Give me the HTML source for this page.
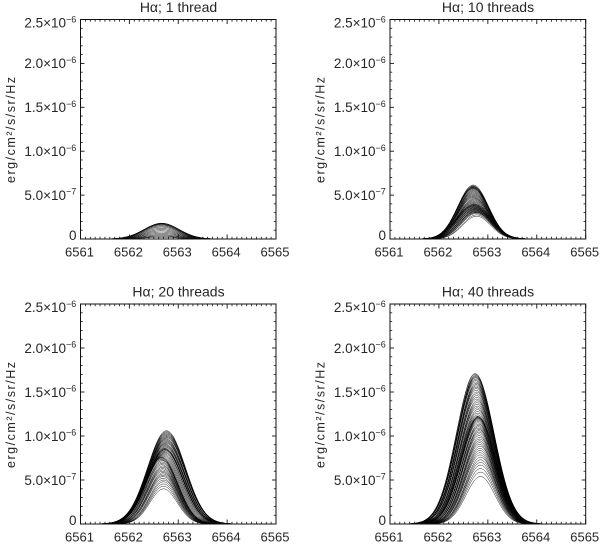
<!DOCTYPE html>
<html lang="en">
<head>
<meta charset="utf-8">
<title>H-alpha line profiles</title>
<style>
html,body{margin:0;padding:0;background:#fff;}
body{width:600px;height:544px;overflow:hidden;}
svg{display:block;font-family:"Liberation Sans",sans-serif;fill:#262626;filter:blur(0.3px);}
</style>
</head>
<body>
<svg id="figure" width="600" height="544" viewBox="0 0 600 544" xmlns="http://www.w3.org/2000/svg">
  <text x="178.5" y="12" font-size="14" text-anchor="middle">Hα; 1 thread</text>
  <text x="488" y="12" font-size="14" text-anchor="middle">Hα; 10 threads</text>
  <text x="178.5" y="296.5" font-size="14" text-anchor="middle">Hα; 20 threads</text>
  <text x="488" y="296.5" font-size="14" text-anchor="middle">Hα; 40 threads</text>
  <text transform="translate(15,130) rotate(-90)" font-size="12.5" text-anchor="middle" textLength="106" lengthAdjust="spacing">erg/cm²/s/sr/Hz</text>
  <text transform="translate(324.5,130) rotate(-90)" font-size="12.5" text-anchor="middle" textLength="106" lengthAdjust="spacing">erg/cm²/s/sr/Hz</text>
  <text transform="translate(15,415) rotate(-90)" font-size="12.5" text-anchor="middle" textLength="106" lengthAdjust="spacing">erg/cm²/s/sr/Hz</text>
  <text transform="translate(324.5,415) rotate(-90)" font-size="12.5" text-anchor="middle" textLength="106" lengthAdjust="spacing">erg/cm²/s/sr/Hz</text>
</svg>
<script>
// Axis ticks
const xTickValues = [6561, 6562, 6563, 6564, 6565];
const xTickLabels = ["6561", "6562", "6563", "6564", "6565"];
const yTickValues = [0, 5e-7, 1e-6, 1.5e-6, 2e-6, 2.5e-6];
const yTickMantissas = ["0", "5.0×10", "1.0×10", "1.5×10", "2.0×10", "2.5×10"];
const yTickExponents = ["", "−7", "−6", "−6", "−6", "−6"];

// Normalised line shape read from the outer profile
const profileOffsets = [-1.4,-1.3,-1.2,-1.1,-1.0,-0.9,-0.8,-0.7,-0.6,-0.5,-0.4,-0.3,-0.2,-0.1,0,0.1,0.2,0.3,0.4,0.5,0.6,0.7,0.8,0.9,1.0,1.1,1.2,1.3,1.4];
const profileShape = [0,0,0.001,0.004,0.010,0.024,0.053,0.105,0.191,0.317,0.480,0.661,0.832,0.955,1,0.955,0.832,0.661,0.480,0.317,0.191,0.105,0.053,0.024,0.010,0.004,0.001,0,0];

// Panel 1: peak intensity (units of 1e-7), line centre, width factor
const p1Peaks = [0.2,0.3,0.4,0.52,0.66,0.8,0.94,1.08,1.22,1.36,1.48,1.58,1.65,1.7,1.74,1.77,1.79,1.8];
const p1Centres = [6562.65,6562.65,6562.65,6562.65,6562.65,6562.65,6562.65,6562.65,6562.65,6562.65,6562.65,6562.65,6562.65,6562.65,6562.66,6562.66,6562.66,6562.66];
const p1Widths = [1.0,1.0,1.01,1.01,1.02,1.02,1.03,1.03,1.04,1.05,1.05,1.06,1.06,1.07,1.07,1.08,1.08,1.09];

// Panel 2
const p2Peaks = [2.6,2.75,2.9,3.0,3.05,3.1,3.15,3.2,3.25,3.3,
  3.35,3.4,3.45,3.5,3.55,3.6,3.65,3.7,3.75,3.8,
  3.85,3.9,3.95,4.0,4.1,4.2,4.3,4.4,4.5,4.6,
  4.7,4.8,4.9,5.0,5.1,5.2,5.3,5.4,5.5,5.6,
  5.7,5.75,5.8,5.85,5.9,5.95,6.0,6.05,6.15];
const p2Centres = [6562.77,6562.77,6562.76,6562.76,6562.76,6562.75,6562.75,6562.75,6562.75,6562.74,
  6562.74,6562.74,6562.74,6562.73,6562.73,6562.73,6562.73,6562.72,6562.72,6562.72,
  6562.72,6562.72,6562.72,6562.72,6562.72,6562.72,6562.72,6562.72,6562.72,6562.72,
  6562.71,6562.71,6562.71,6562.71,6562.71,6562.71,6562.71,6562.71,6562.71,6562.71,
  6562.71,6562.70,6562.70,6562.70,6562.70,6562.70,6562.70,6562.70,6562.70];
const p2Widths = [0.86,0.88,0.90,0.91,0.92,0.93,0.94,0.95,0.96,0.97,
  0.97,0.98,0.98,0.99,0.99,1.0,1.0,1.0,1.01,1.01,
  1.01,1.02,1.02,1.02,1.0,0.99,0.99,0.98,0.98,0.98,
  0.97,0.97,0.97,0.97,0.96,0.96,0.96,0.96,0.96,0.95,
  0.95,0.95,0.95,0.95,0.95,0.95,0.95,0.95,0.95];

// Panel 3
const p3Peaks = [4.0,4.3,4.55,4.8,5.0,5.2,5.4,5.55,5.7,5.85,
  6.0,6.15,6.3,6.45,6.6,6.75,6.9,7.05,7.2,7.3,
  7.4,7.5,7.55,7.6,7.7,7.8,7.9,8.0,8.1,8.2,
  8.3,8.4,8.45,8.5,8.55,8.6,8.7,8.8,8.9,9.0,
  9.1,9.2,9.3,9.4,9.5,9.6,9.7,9.8,9.9,10.0,
  10.1,10.2,10.3,10.4,10.5,10.6];
const p3Centres = [6562.70,6562.70,6562.70,6562.70,6562.70,6562.69,6562.69,6562.69,6562.69,6562.69,
  6562.68,6562.68,6562.68,6562.68,6562.68,6562.67,6562.67,6562.67,6562.67,6562.66,
  6562.66,6562.66,6562.66,6562.67,6562.68,6562.69,6562.70,6562.71,6562.72,6562.72,
  6562.73,6562.73,6562.73,6562.73,6562.73,6562.73,6562.74,6562.74,6562.74,6562.74,
  6562.74,6562.75,6562.75,6562.75,6562.75,6562.75,6562.75,6562.76,6562.76,6562.76,
  6562.76,6562.76,6562.76,6562.76,6562.76,6562.76];
const p3Widths = [0.85,0.86,0.87,0.88,0.89,0.90,0.91,0.92,0.93,0.93,
  0.94,0.95,0.95,0.96,0.97,0.97,0.98,0.99,0.99,1.0,
  1.0,1.01,1.01,1.02,1.03,1.04,1.05,1.06,1.07,1.08,
  1.09,1.09,1.10,1.10,1.10,1.11,1.11,1.12,1.12,1.13,
  1.13,1.14,1.14,1.14,1.15,1.15,1.15,1.16,1.16,1.16,
  1.16,1.17,1.17,1.17,1.17,1.17];

// Panel 4
const p4Peaks = [5.4,5.9,6.3,6.7,7.0,7.3,7.6,7.85,8.1,8.35,
  8.6,8.85,9.05,9.25,9.45,9.65,9.85,10.05,10.25,10.45,
  10.6,10.75,10.9,11.05,11.2,11.35,11.5,11.65,11.8,11.9,
  12.0,12.05,12.1,12.15,12.2,12.25,12.4,12.6,12.8,13.0,
  13.2,13.4,13.6,13.8,14.0,14.2,14.4,14.6,14.8,15.0,
  15.2,15.4,15.55,15.7,15.85,16.0,16.15,16.3,16.45,16.6,
  16.7,16.8,16.9,17.0,17.1];
const p4Centres = [6562.85,6562.85,6562.85,6562.85,6562.85,6562.85,6562.85,6562.84,6562.84,6562.84,
  6562.84,6562.84,6562.83,6562.83,6562.83,6562.83,6562.83,6562.82,6562.82,6562.82,
  6562.82,6562.82,6562.81,6562.81,6562.81,6562.81,6562.80,6562.80,6562.80,6562.80,
  6562.80,6562.80,6562.80,6562.80,6562.80,6562.79,6562.79,6562.79,6562.79,6562.79,
  6562.78,6562.78,6562.78,6562.78,6562.78,6562.77,6562.77,6562.77,6562.77,6562.77,
  6562.76,6562.76,6562.76,6562.76,6562.76,6562.76,6562.75,6562.75,6562.75,6562.75,
  6562.75,6562.75,6562.75,6562.74,6562.74];
const p4Widths = [0.90,0.91,0.92,0.93,0.93,0.94,0.94,0.95,0.95,0.96,
  0.96,0.97,0.97,0.98,0.98,0.99,0.99,1.0,1.0,1.0,
  1.01,1.01,1.02,1.02,1.03,1.03,1.04,1.04,1.05,1.05,
  1.06,1.06,1.06,1.07,1.07,1.07,1.08,1.08,1.08,1.09,
  1.09,1.09,1.10,1.10,1.10,1.11,1.11,1.11,1.12,1.12,
  1.12,1.12,1.13,1.13,1.13,1.13,1.14,1.14,1.14,1.14,
  1.15,1.15,1.15,1.15,1.15];

const SVG_NS = "http://www.w3.org/2000/svg";
const figure = document.getElementById("figure");
const X_MIN = 6561, X_MAX = 6565, Y_MAX = 2.5e-6, PEAK_UNIT = 1e-7;

function svgEl(tag, parent) {
  const el = document.createElementNS(SVG_NS, tag);
  parent.appendChild(el);
  return el;
}

function makeLine(parent, x1, y1, x2, y2, width) {
  const line = svgEl("line", parent);
  
  
  line.setAttribute("x1", x1);
  line.setAttribute("y1", y1);
  line.setAttribute("x2", x2);
  line.setAttribute("y2", y2);
  line.setAttribute("stroke", "#111");
  line.setAttribute("stroke-width", width);
}

function curvePath(points) {
  let d = "M" + points[0][0].toFixed(2) + " " + points[0][1].toFixed(2);
  for (let i = 0; i < points.length - 1; i++) {
    const p0 = points[Math.max(i - 1, 0)], p1 = points[i], p2 = points[i + 1];
    const p3 = points[Math.min(i + 2, points.length - 1)];
    const c1x = p1[0] + (p2[0] - p0[0]) / 6, c1y = p1[1] + (p2[1] - p0[1]) / 6;
    const c2x = p2[0] - (p3[0] - p1[0]) / 6, c2y = p2[1] - (p3[1] - p1[1]) / 6;
    d += "C" + c1x.toFixed(2) + " " + c1y.toFixed(2) + " " + c2x.toFixed(2) + " " + c2y.toFixed(2) + " " + p2[0].toFixed(2) + " " + p2[1].toFixed(2);
  }
  return d;
}

function drawPanel(id, left, right, top, bottom, peaks, centres, widths) {
  const xScale = v => left + (v - X_MIN) / (X_MAX - X_MIN) * (right - left);
  const yScale = v => bottom - v / Y_MAX * (bottom - top);

  const panel = svgEl("g", figure);
  
  

  const series = svgEl("g", panel);
  
  
  peaks.forEach((peak, k) => {
    const pts = profileOffsets.map((off, i) => [
      xScale(centres[k] + off * widths[k]),
      yScale(peak * PEAK_UNIT * profileShape[i])
    ]);
    const path = svgEl("path", series);
    
    
    path.setAttribute("d", curvePath(pts));
    path.setAttribute("fill", "none");
    path.setAttribute("stroke", "#000");
    path.setAttribute("stroke-width", "0.45");
  });

  const frame = svgEl("rect", panel);
  
  
  frame.setAttribute("x", left);
  frame.setAttribute("y", top);
  frame.setAttribute("width", right - left);
  frame.setAttribute("height", bottom - top);
  frame.setAttribute("fill", "none");
  frame.setAttribute("stroke", "#111");
  frame.setAttribute("stroke-width", "1");

  const ticks = svgEl("g", panel);
  
  

  // x ticks: major at each value, ten minor intervals between them
  xTickValues.forEach((v, i) => {
    const x = xScale(v);
    makeLine(ticks, x, bottom, x, bottom - 4.5, 0.9);
    makeLine(ticks, x, top, x, top + 4.5, 0.9);
    const label = svgEl("text", panel);
    
    
    label.setAttribute("x", x - 1);
    label.setAttribute("y", bottom + 17.5);
    label.setAttribute("font-size", "13");
    label.setAttribute("text-anchor", "middle");
    label.textContent = xTickLabels[i];
    if (i < xTickValues.length - 1) {
      const next = xScale(xTickValues[i + 1]);
      for (let m = 1; m < 10; m++) {
        const xm = x + (next - x) * m / 10;
        makeLine(ticks, xm, bottom, xm, bottom - 2.2, 0.8);
        makeLine(ticks, xm, top, xm, top + 2.2, 0.8);
      }
    }
  });

  // y ticks: major at each value, five minor intervals between them
  yTickValues.forEach((v, i) => {
    const y = yScale(v);
    makeLine(ticks, left, y, left + 4, y, 0.9);
    makeLine(ticks, right, y, right - 4, y, 0.9);
    const label = svgEl("text", panel);
    
    
    const isTop = i === yTickValues.length - 1;
    const isZero = i === 0;
    label.setAttribute("y", y + (isTop ? 8.2 : isZero ? 1 : 4.8));
    label.setAttribute("font-size", "13.5");
    label.setAttribute("text-anchor", "end");
    if (isZero) {
      label.setAttribute("x", left - 4);
      label.textContent = yTickMantissas[i];
    } else {
      label.setAttribute("x", left - 14.5);
      label.textContent = yTickMantissas[i];
      const exp = svgEl("text", panel);
      
      
      exp.setAttribute("x", left - 14.5);
      exp.setAttribute("y", y + (isTop ? 3 : -0.4));
      exp.setAttribute("font-size", "9");
      exp.textContent = yTickExponents[i];
    }
    if (i < yTickValues.length - 1) {
      const next = yScale(yTickValues[i + 1]);
      for (let m = 1; m < 5; m++) {
        const ym = y + (next - y) * m / 5;
        makeLine(ticks, left, ym, left + 2.2, ym, 0.8);
        makeLine(ticks, right, ym, right - 2.2, ym, 0.8);
      }
    }
  });
}

drawPanel(1, 80.5, 276, 19.5, 239, p1Peaks, p1Centres, p1Widths);
drawPanel(2, 390, 585.7, 19.5, 239, p2Peaks, p2Centres, p2Widths);
drawPanel(3, 80.5, 276, 304, 524, p3Peaks, p3Centres, p3Widths);
drawPanel(4, 390, 585.7, 304, 524, p4Peaks, p4Centres, p4Widths);
</script>
</body>
</html>
